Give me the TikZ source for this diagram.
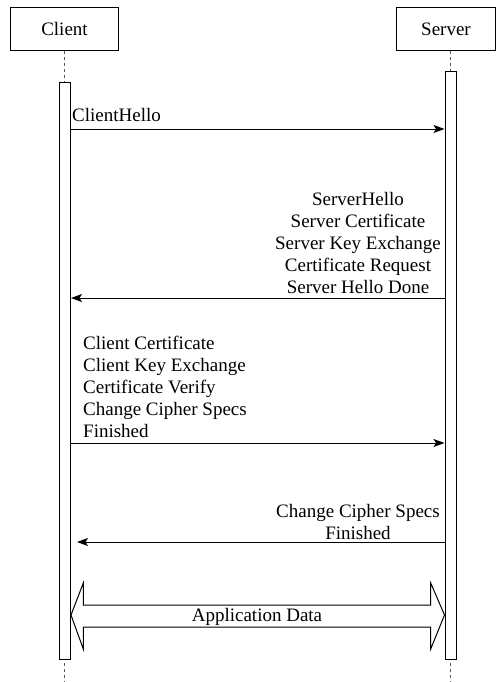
\documentclass[tikz,border=0pt]{standalone}
\usepackage{fontspec}
\newfontfamily\labelfont{LiberationSerif}[Extension=.ttf, UprightFont=*-Regular]
\usetikzlibrary{arrows.meta}
\begin{document}
\begin{tikzpicture}[x=1pt,y=-1pt,
  every node/.style={font=\labelfont\fontsize{19}{22}\selectfont, inner sep=0pt},
  actor/.style={draw, line width=1pt, fill=white, anchor=north west},
  bar/.style={draw, line width=1pt, fill=white, anchor=north west, minimum width=11pt},
  lifeline/.style={line width=1pt, dash pattern=on 3pt off 3pt, gray!70!black},
  msg/.style={line width=1pt, -{Stealth[length=11pt,width=8pt,inset=2.5pt]}},
  msgtext/.style={align=center}]
  \useasboundingbox (0,0) rectangle (496,682);

  % participants
  \node[actor, minimum width=108pt, minimum height=43pt] (client) at (10,7) {};
  \node at (client.center) {Client};
  \node[actor, minimum width=99pt, minimum height=43pt] (server) at (396,7) {};
  \node at (server.center) {Server};

  % lifelines
  \coordinate (cend) at (64.5,682);
  \coordinate (send) at (450,682);
  \draw[lifeline] (client.south -| cend) -- (cend);
  \draw[lifeline] (server.south -| send) -- (send);

  % activation bars
  \node[bar, minimum height=577pt] (cbar) at (59,82) {};
  \node[bar, minimum height=588pt] (sbar) at (444.5,71) {};

  % ClientHello
  \coordinate (m1) at (0,129);
  \draw[msg] (cbar.east |- m1) -- (sbar.west |- m1);
  \node[anchor=west] (t1) at (72,115) {ClientHello};

  % Server flight
  \coordinate (m2) at (0,298);
  \draw[msg] (sbar.west |- m2) -- (cbar.east |- m2);
  \node[msgtext] (t2) at (358,243) {ServerHello\\Server Certificate\\Server Key Exchange\\Certificate Request\\Server Hello Done};

  % Client flight
  \coordinate (m3) at (0,443);
  \draw[msg] (cbar.east |- m3) -- (sbar.west |- m3);
  \node[align=left, anchor=west] (t3) at (83,387) {Client Certificate\\Client Key Exchange\\Certificate Verify\\Change Cipher Specs\\Finished};

  % Server finished
  \coordinate (m4) at (77,542);
  \draw[msg] (sbar.west |- m4) -- (m4);
  \node[msgtext] (t4) at (358,522) {Change Cipher Specs\\Finished};

  % application data channel
  \draw[line width=1pt, fill=white]
    (cbar.east |- 0,615) -- (83.3,583) -- (83.3,605) -- (430.7,605) -- (430.7,583)
    -- (sbar.west |- 0,615) -- (430.7,649) -- (430.7,627) -- (83.3,627) -- (83.3,649) -- cycle;
  \node (t5) at (257,617) {Application Data};
\end{tikzpicture}
\end{document}
